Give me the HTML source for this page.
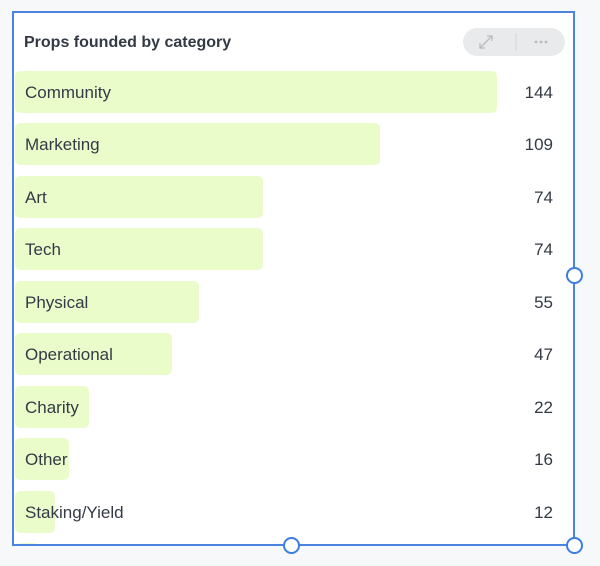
<!DOCTYPE html>
<html><head><meta charset="utf-8"><style>
body{margin:0;width:600px;height:566px;background:#f7f8fa;font-family:"Liberation Sans",sans-serif;position:relative;overflow:hidden}
#card{position:absolute;left:12px;top:11px;width:559px;height:531px;background:#fff;border:2px solid #4a84e0;overflow:hidden}
#title{position:absolute;left:10px;top:21px;font-size:16px;font-weight:bold;color:#333a45}
#btns{position:absolute;left:449px;top:15px;width:102px;height:28px;border-radius:14px;background:#e9eaec}
.row{position:absolute;left:1px;height:42px;width:559px}
.bar{position:absolute;left:0;top:0;height:42px;background:#ebfccb;border-radius:5px}
.lab{position:absolute;left:10px;top:12px;font-size:17px;color:#333a45}
.val{position:absolute;right:21px;top:12px;font-size:17px;color:#333a45}
.h{position:absolute;width:13px;height:13px;border:2.5px solid #3b7de0;border-radius:50%;background:#fff}
</style></head><body>
<div id="card">
<div id="title">Props founded by category</div>
<div id="btns">
<svg width="102" height="28" style="position:absolute;left:0;top:0">
<g stroke="#b8bbc0" stroke-width="1.3" fill="none"><path d="M17 20 L29 8 M24 8 H29 V13 M17 15 V20 H22"/></g>
<line x1="53" y1="5" x2="53" y2="23" stroke="#d5d7da"/>
<g fill="#b8bbc0"><circle cx="73" cy="14" r="1.4"/><circle cx="78" cy="14" r="1.4"/><circle cx="83" cy="14" r="1.4"/></g>
</svg></div>
<div id="rows"></div>
</div>
<div class="h" style="left:566px;top:267px"></div>
<div class="h" style="left:283px;top:537px"></div>
<div class="h" style="left:566px;top:537px"></div>
<script>
const categories=["Community","Marketing","Art","Tech","Physical","Operational","Charity","Other","Staking/Yield","Governance"];
const values=[144,109,74,74,55,47,22,16,12,7];
const pxPerUnit=3.35, rowTop=58, rowStep=52.45;
const xScale=v=>v*pxPerUnit;
const yPos=i=>rowTop+i*rowStep;
const rows=document.getElementById('rows');
categories.forEach((c,i)=>{
 const r=document.createElement('div');r.className='row';r.style.top=yPos(i)+'px';
 
 
 const b=document.createElement('div');b.className='bar';b.style.width=xScale(values[i])+'px';
 
 
 const l=document.createElement('div');l.className='lab';l.textContent=c;
 
 
 const v=document.createElement('div');v.className='val';v.textContent=values[i];
 
 
 r.append(b,l,v);rows.appendChild(r);
});
</script>
</body></html>
